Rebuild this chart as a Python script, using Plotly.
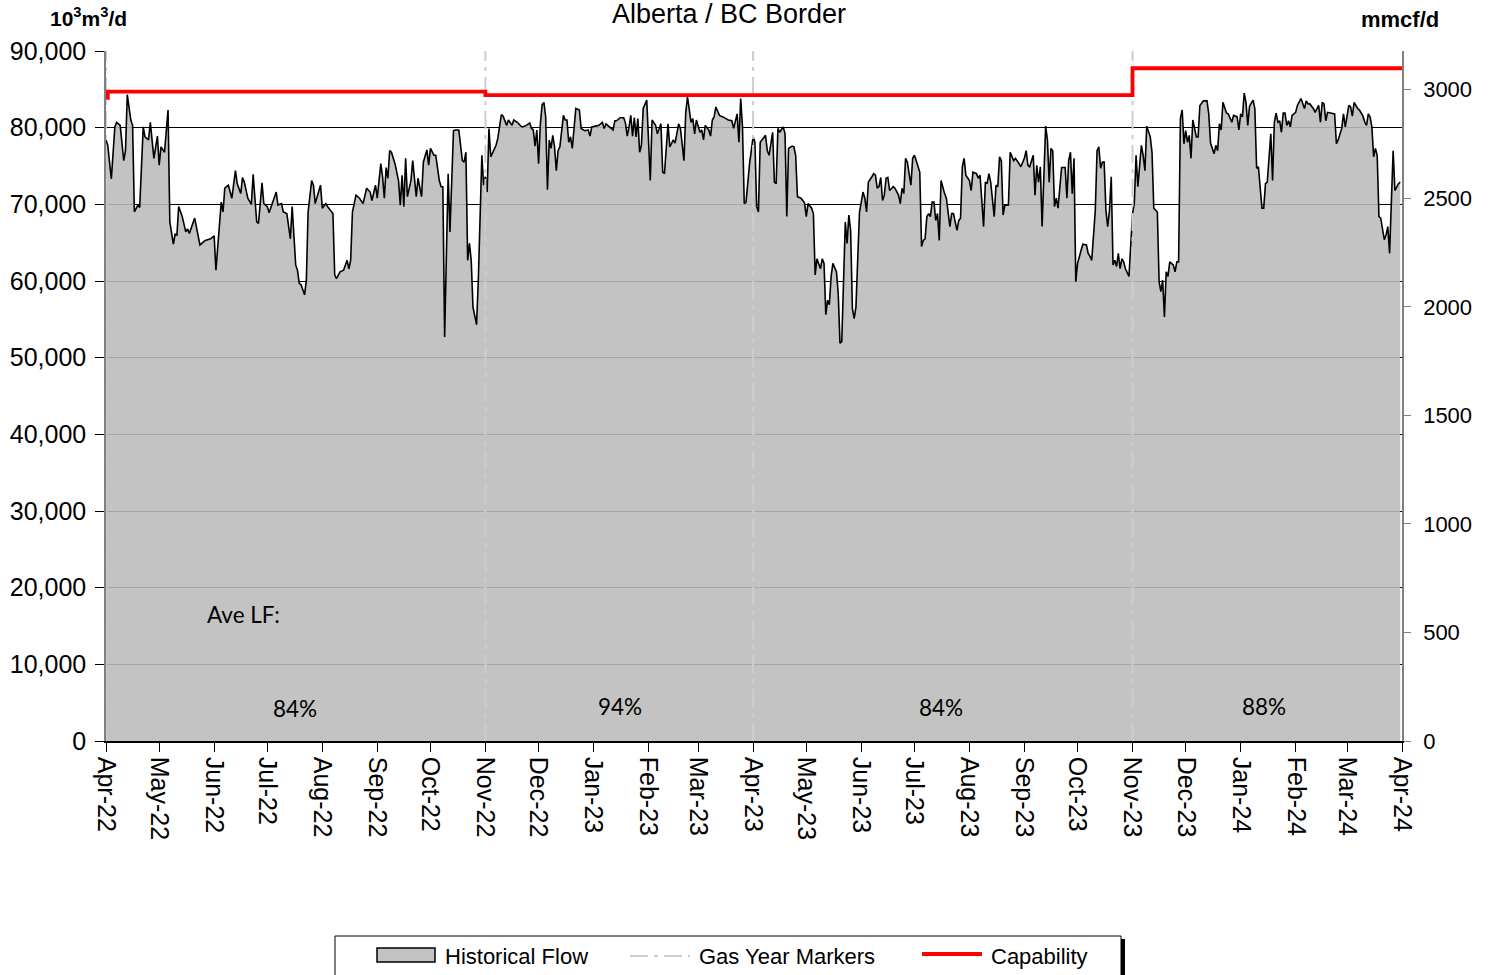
import pandas as pd
import plotly.graph_objects as go

# ---------------- data ----------------
start_date = "2022-04-01"
end_date = "2024-04-01"

# day offsets from 2022-04-01 and daily flow (10^3 m3/d)
day_offset = [
    0, 1, 3, 5, 6, 8, 10, 11, 12, 14, 15, 16, 18, 19, 21, 22, 24, 25, 27, 29, 30, 31, 33, 35, 36, 38, 39, 40,
    41, 43, 45, 46, 47, 50, 53, 56, 59, 61, 62, 65, 66, 67, 69, 71, 73, 74, 76, 77, 78, 80, 82, 83, 85, 86,
    88, 89, 91, 92, 96, 97, 99, 100, 102, 104, 105, 107, 108, 109, 110, 112, 113, 114, 116, 117, 118, 121,
    122, 124, 125, 127, 128, 129, 130, 132, 134, 136, 137, 138, 139, 141, 143, 145, 147, 149, 150, 152, 153,
    155, 156, 157, 158, 159, 160, 161, 163, 165, 166, 167, 168, 169, 170, 172, 173, 175, 176, 178, 179, 181,
    182, 183, 185, 186, 188, 189, 190, 191, 193, 194, 196, 197, 199, 201, 202, 203, 204, 205, 206, 207, 209,
    210, 212, 213, 214, 215, 216, 217, 219, 220, 221, 223, 224, 226, 227, 229, 230, 232, 234, 235, 237, 239,
    240, 241, 242, 243, 244, 245, 246, 247, 248, 249, 250, 251, 252, 253, 254, 255, 256, 258, 259, 260, 261,
    262, 263, 264, 265, 267, 268, 270, 272, 273, 274, 276, 278, 280, 281, 282, 284, 286, 287, 288, 290, 292,
    293, 294, 295, 296, 297, 298, 299, 300, 301, 302, 303, 305, 307, 308, 310, 311, 313, 314, 315, 317, 318,
    320, 321, 323, 324, 326, 327, 328, 330, 331, 332, 333, 335, 336, 337, 338, 340, 341, 342, 343, 344, 346,
    348, 351, 353, 354, 356, 357, 358, 359, 360, 361, 363, 365, 366, 367, 368, 369, 372, 373, 374, 376, 377,
    378, 379, 380, 382, 383, 384, 385, 387, 388, 389, 390, 392, 394, 395, 396, 398, 399, 400, 401, 403, 404,
    405, 406, 407, 408, 409, 410, 412, 413, 414, 415, 417, 418, 419, 420, 421, 422, 423, 425, 427, 428, 429,
    430, 432, 433, 434, 435, 436, 437, 438, 439, 440, 441, 442, 444, 445, 447, 448, 449, 450, 451, 452, 454,
    455, 456, 457, 459, 460, 461, 462, 463, 464, 465, 466, 467, 468, 469, 470, 471, 473, 474, 476, 477, 478,
    479, 480, 481, 482, 483, 484, 485, 487, 488, 489, 491, 492, 493, 494, 495, 496, 497, 498, 499, 501, 502,
    503, 504, 505, 506, 507, 509, 510, 512, 513, 514, 515, 516, 518, 519, 520, 521, 523, 524, 525, 526, 527,
    528, 529, 530, 531, 532, 533, 534, 535, 536, 537, 538, 539, 541, 542, 543, 544, 545, 546, 547, 548, 550,
    551, 553, 554, 555, 556, 558, 559, 560, 561, 562, 563, 564, 565, 566, 567, 568, 569, 570, 571, 572, 573,
    574, 575, 577, 578, 579, 580, 581, 582, 584, 585, 586, 587, 589, 590, 591, 593, 594, 595, 596, 597, 598,
    599, 600, 602, 603, 604, 605, 606, 607, 608, 609, 610, 611, 612, 613, 615, 616, 617, 619, 621, 622, 623,
    625, 626, 627, 628, 629, 630, 632, 633, 635, 636, 638, 639, 640, 641, 642, 643, 644, 645, 647, 648, 649,
    650, 652, 653, 654, 655, 656, 657, 658, 659, 660, 661, 662, 663, 664, 665, 666, 667, 668, 669, 671, 672,
    674, 676, 677, 678, 679, 681, 682, 684, 685, 686, 687, 688, 689, 691, 693, 694, 695, 697, 698, 699, 701,
    702, 703, 704, 706, 707, 709, 710, 711, 712, 713, 714, 715, 716, 717, 718, 719, 721, 722, 723, 724, 726,
    727, 729, 730,
]
flow_e3m3d = [
    78400, 77700, 73300, 80100, 80700, 80300, 75700, 77000, 84300, 81000, 80300, 69000, 69900, 69600, 80100,
    78800, 78400, 80700, 76000, 78900, 75100, 77500, 76800, 82300, 67700, 64800, 66100, 66000, 69700, 68400,
    66400, 66800, 66200, 68200, 64700, 65300, 65500, 65900, 61400, 70300, 69000, 72100, 72500, 70800, 74400,
    72700, 71400, 73500, 72900, 70800, 70000, 73900, 67700, 67500, 72800, 70100, 69700, 68900, 71600, 69900,
    70100, 69000, 68800, 65500, 69700, 62100, 61400, 59700, 59500, 58200, 60100, 69000, 73100, 72500, 70100,
    72500, 69500, 70100, 69700, 69000, 68800, 60800, 60300, 61200, 61400, 62700, 61600, 62700, 69000, 71200,
    70800, 70100, 72100, 71600, 70500, 72500, 70800, 75300, 73600, 70800, 74800, 73400, 77000, 76800, 75300,
    73100, 69900, 73800, 69700, 76000, 71000, 73100, 75700, 71000, 73400, 71000, 75500, 77100, 75100, 77300,
    76400, 76400, 73100, 72300, 72300, 52700, 74000, 66400, 79600, 79700, 79700, 75700, 75500, 76800, 62700,
    64900, 62700, 56600, 54300, 60100, 76400, 72500, 73600, 71600, 79900, 76200, 77300, 77700, 78600, 81700,
    81500, 80300, 81000, 80300, 81000, 80700, 80200, 80100, 80300, 80600, 79900, 79700, 77600, 79700, 75300,
    80500, 83000, 83300, 81400, 71900, 78400, 77300, 79000, 77500, 74400, 77000, 77500, 81600, 81000, 81000,
    78100, 78800, 77300, 80300, 82500, 82300, 79900, 79600, 79700, 78900, 80100, 80200, 80300, 80700, 79900,
    80500, 80100, 79700, 80900, 80900, 81300, 81300, 80600, 78900, 80100, 81600, 78900, 81300, 78800, 81200,
    76800, 77700, 82500, 83600, 73100, 81000, 80300, 79200, 80500, 74200, 74000, 80500, 77500, 78400, 78000,
    80500, 79900, 75700, 82000, 84000, 80700, 81200, 79200, 81000, 79400, 79700, 78400, 80300, 79700, 78900,
    81000, 81400, 82700, 81600, 81400, 81000, 80900, 79900, 81800, 78100, 83800, 80100, 70100, 70300, 75300,
    78800, 78100, 69700, 69000, 78100, 79000, 77000, 76400, 79400, 72900, 72700, 79900, 79400, 80100, 79200,
    68400, 77300, 77600, 77500, 76400, 71000, 70800, 70200, 68400, 70100, 69500, 68800, 60800, 62900, 61600,
    62900, 62300, 55600, 57500, 56900, 60600, 62300, 61200, 58400, 51900, 52100, 67700, 64900, 68600, 66600,
    56400, 55100, 56600, 69000, 71600, 70800, 69000, 72900, 73600, 74000, 73800, 72100, 72300, 73500, 70500,
    71200, 73400, 73500, 71800, 72300, 72100, 71200, 70100, 72100, 71400, 76000, 75500, 72500, 76000, 76400,
    75700, 74200, 64500, 65300, 65500, 68400, 68800, 68400, 70300, 70300, 67900, 68800, 65300, 73100, 71400,
    70800, 67100, 68800, 68800, 67700, 66600, 67900, 68200, 74900, 76000, 73800, 73100, 71800, 74200, 74000,
    73400, 73800, 69700, 67100, 72900, 72700, 74000, 72900, 68400, 72500, 72300, 76200, 75700, 68600, 69900,
    69900, 76800, 75700, 76000, 75700, 75300, 74900, 76000, 77000, 75100, 74900, 76400, 71200, 75100, 72900,
    74900, 67100, 74200, 80200, 78400, 72900, 77300, 77000, 69700, 70800, 69500, 72700, 74800, 74800, 70800,
    75700, 76800, 71400, 76000, 59900, 62300, 64000, 64800, 64700, 63600, 63200, 62700, 69200, 77000, 77500,
    74700, 75500, 75500, 69200, 67100, 69200, 73600, 62100, 62700, 61900, 63600, 61600, 62900, 62500, 61600,
    60600, 64500, 68800, 70100, 76400, 72300, 77700, 76400, 74400, 80200, 78800, 76800, 69500, 69000, 59900,
    58600, 60100, 55300, 61200, 60600, 62500, 62100, 61200, 62500, 62500, 81200, 82300, 77900, 79600, 78100,
    79000, 76000, 81000, 78800, 78800, 82900, 83500, 83500, 81800, 78000, 76600, 77700, 77000, 80500, 79700,
    83300, 81900, 81800, 80700, 81600, 81400, 79700, 81800, 81400, 84500, 83300, 80300, 82800, 83600, 82500,
    74700, 74900, 69500, 69500, 72700, 72900, 76800, 79200, 73100, 80700, 81900, 80700, 80900, 79400, 81900,
    81900, 80300, 80900, 80100, 81600, 82000, 82900, 83800, 82500, 83500, 83100, 83100, 82500, 82000, 82900,
    80700, 83300, 83100, 80900, 82000, 81900, 81800, 77900, 78400, 79900, 81800, 80100, 82900, 82700, 81500,
    83300, 82500, 82300, 81500, 80700, 80300, 81800, 81400, 80100, 76200, 77300, 76400, 68400, 68200, 65400,
    66000, 67100, 63600, 77000, 71800, 72700, 72900,
]

capability_dates = ["2022-04-01", "2022-04-02", "2022-11-01", "2023-11-01", "2024-04-01"]
capability_e3m3d = [83900, 84700, 84250, 87750, 87750]

gas_year_marker_dates = ["2022-04-01", "2022-11-01", "2023-04-01", "2023-11-01"]

ave_lf_labels = ["84%", "94%", "84%", "88%"]
legend_labels = ["Historical Flow", "Gas Year Markers", "Capability"]

y_ticks = [0, 10000, 20000, 30000, 40000, 50000, 60000, 70000, 80000, 90000]
y2_ticks = [0, 500, 1000, 1500, 2000, 2500, 3000]
E3M3_PER_MMCF = 28.3168

# ---------------- layout helpers (pixel -> paper) ----------------
W, H = 1491, 975
PL, PR, PT, PB = 106, 1402, 51, 741


def px(x):
    return (x - PL) / (PR - PL)


def py(y):
    return (PB - y) / (PB - PT)


FONT = "Liberation Sans, Arial, sans-serif"
LF_FONT = "Lato, Open Sans, sans-serif"
FILL = "rgba(188,188,188,0.89)"
MARKER_COLOR = "#cdcdcd"
MARKER_DASH = "18px,6px,4px,6px"

# ---------------- figure ----------------
dates = pd.Timestamp(start_date) + pd.to_timedelta(day_offset, unit="D")

fig = go.Figure()

fig.add_trace(go.Scatter(
    x=dates, y=flow_e3m3d, name=legend_labels[0], mode="lines",
    line=dict(color="black", width=1.6), fill="tozeroy", fillcolor=FILL,
))

mx, my = [], []
for d in gas_year_marker_dates:
    mx += [d, d, None]
    my += [0, 90000, None]
fig.add_trace(go.Scatter(
    x=mx, y=my, name=legend_labels[1], mode="lines",
    line=dict(color=MARKER_COLOR, width=2, dash=MARKER_DASH),
))

fig.add_trace(go.Scatter(
    x=capability_dates, y=capability_e3m3d, name=legend_labels[2], mode="lines",
    line=dict(color="#ff0000", width=3.8, shape="hv"),
))

# invisible trace so the right (mmcf/d) axis is drawn
fig.add_trace(go.Scatter(
    x=[start_date], y=[0], yaxis="y2", mode="lines", showlegend=False,
    hoverinfo="skip", line=dict(color="rgba(0,0,0,0)"),
))

fig.update_layout(
    width=W, height=H,
    margin=dict(l=PL, r=W - PR, t=PT, b=H - PB, autoexpand=False),
    paper_bgcolor="white", plot_bgcolor="white",
    font=dict(family=FONT, color="black"),
    showlegend=False,
    title=dict(text="Alberta / BC Border", x=px(729), xref="paper", xanchor="center",
               y=1 - 14 / H, yref="container", yanchor="middle",
               font=dict(size=27, family=FONT)),
    xaxis=dict(
        type="date", range=[start_date, end_date],
        tick0=start_date, dtick="M1", tickformat="%b-%y", tickangle=90,
        tickfont=dict(size=25, family=FONT),
        ticks="outside", ticklen=9, tickcolor="black",
        showline=True, linecolor="black", linewidth=1.5,
        showgrid=False, zeroline=False,
    ),
    yaxis=dict(
        range=[0, 90000], tickvals=y_ticks, tickformat=",",
        tickfont=dict(size=25, family=FONT),
        ticks="outside", ticklen=9, tickcolor="black", ticklabelstandoff=4,
        showline=True, linecolor="#808080", linewidth=1.5,
        showgrid=True, gridcolor="black", gridwidth=1, zeroline=False,
    ),
    yaxis2=dict(
        overlaying="y", side="right", range=[0, 90000 / E3M3_PER_MMCF],
        tickvals=y2_ticks, tickfont=dict(size=22, family=FONT),
        ticks="outside", ticklen=7, tickcolor="#808080", ticklabelstandoff=8,
        showline=True, linecolor="#808080", linewidth=1.5,
        showgrid=False, zeroline=False,
    ),
)

annotations = [
    dict(text="<b>10<sup>3</sup>m<sup>3</sup>/d</b>", x=px(48), y=py(17), xanchor="left", yanchor="middle",
         font=dict(size=21, family=FONT)),
    dict(text="<b>mmcf/d</b>", x=px(1400), y=py(20), xanchor="center", yanchor="middle",
         font=dict(size=22, family=FONT)),
    dict(text="Ave LF:", x=px(205), y=py(614), xanchor="left", yanchor="middle",
         font=dict(size=22.5, family=LF_FONT)),
]
lf_px = [(295, 708), (620, 706), (941, 707), (1264, 706)]
for lbl, (xx, yy) in zip(ave_lf_labels, lf_px):
    annotations.append(dict(text=lbl, x=px(xx), y=py(yy), xanchor="center", yanchor="middle",
                            font=dict(size=22.5, family=LF_FONT)))

# ---- hand-drawn legend (box with shadow, like the original) ----
leg_text_y = 956
leg_items_text_x = [443, 697, 989]
for lbl, xx in zip(legend_labels, leg_items_text_x):
    annotations.append(dict(text=lbl, x=px(xx), y=py(leg_text_y), xanchor="left", yanchor="middle",
                            font=dict(size=22, family=FONT)))
for a in annotations:
    a.update(xref="paper", yref="paper", showarrow=False)

shapes = [
    # shadow
    dict(type="line", x0=px(1123), x1=px(1123), y0=py(939), y1=py(980),
         line=dict(color="black", width=4)),
    # box
    dict(type="rect", x0=px(335), x1=px(1121), y0=py(980), y1=py(936),
         line=dict(color="black", width=1), fillcolor="white"),
    # Historical Flow swatch
    dict(type="rect", x0=px(377), x1=px(435), y0=py(962), y1=py(948),
         line=dict(color="black", width=1.5), fillcolor="#c2c2c2"),
    # Gas Year Markers swatch
    dict(type="line", x0=px(630), x1=px(690), y0=py(956), y1=py(956),
         line=dict(color=MARKER_COLOR, width=2, dash=MARKER_DASH)),
    # Capability swatch
    dict(type="line", x0=px(922), x1=px(982), y0=py(954), y1=py(954),
         line=dict(color="#ff0000", width=4)),
]
for s in shapes:
    s.update(xref="paper", yref="paper", layer="above")

fig.update_layout(annotations=annotations, shapes=shapes)

fig.write_html("out.html", config={"displayModeBar": False},
               post_script="document.body.style.margin='0';")
